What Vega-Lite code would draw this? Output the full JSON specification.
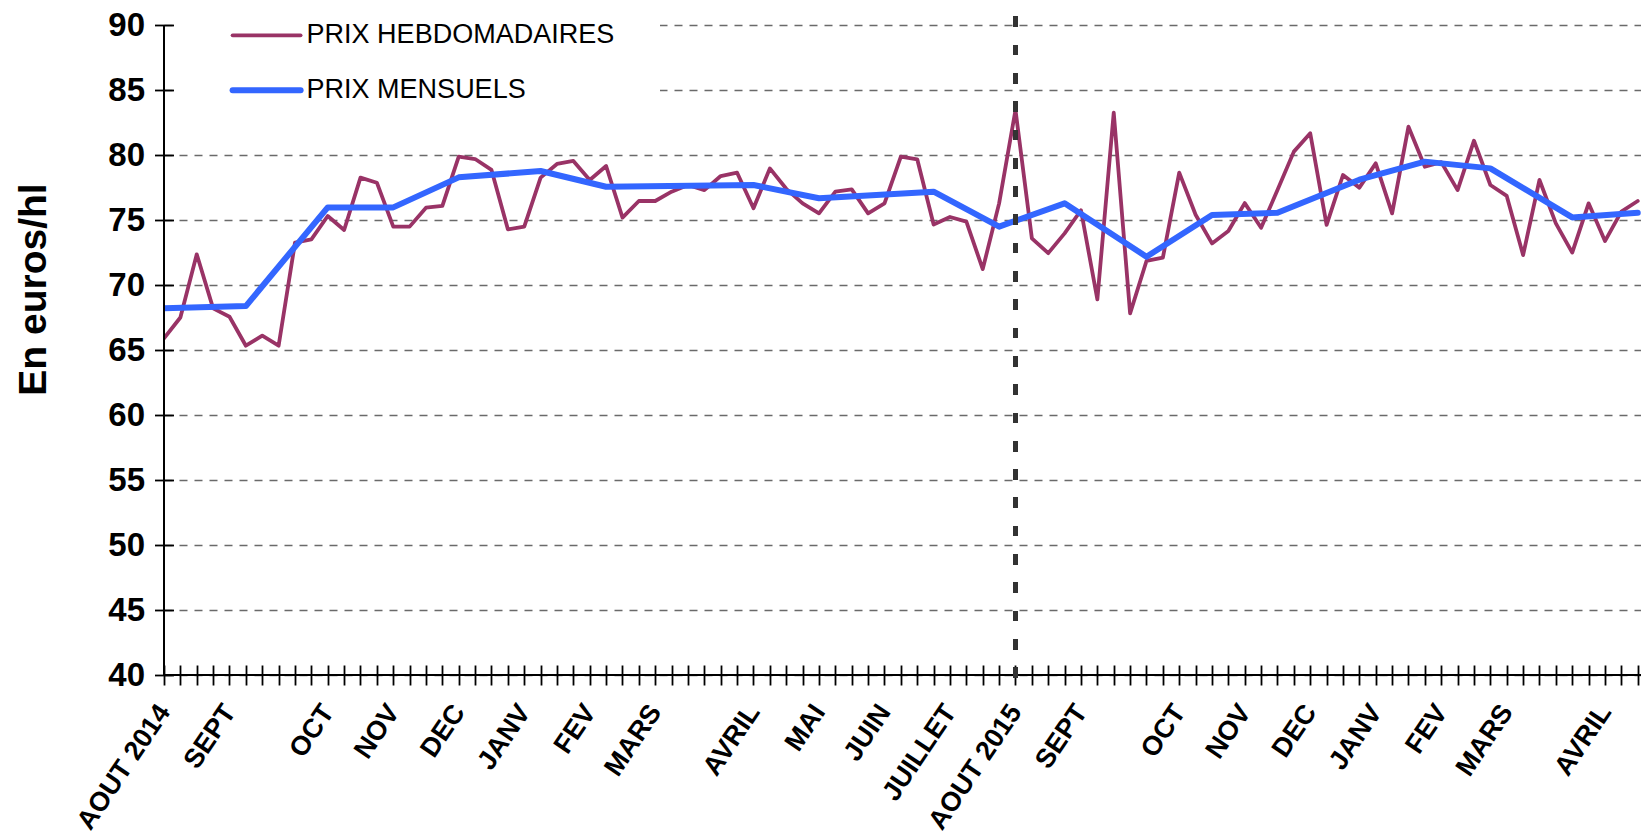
{
  "$schema": "https://vega.github.io/schema/vega-lite/v6.json",
  "autosize": {"type": "none"},
  "width": 1477,
  "height": 650,
  "padding": {"left": 164, "top": 25, "right": 0, "bottom": 165},
  "background": "white",
  "config": {"view": {"stroke": null}},
  "data": {"values": [
    {"semaine": 0, "serie": "PRIX HEBDOMADAIRES", "prix": 65.9},
    {"semaine": 1, "serie": "PRIX HEBDOMADAIRES", "prix": 67.5},
    {"semaine": 2, "serie": "PRIX HEBDOMADAIRES", "prix": 72.36},
    {"semaine": 3, "serie": "PRIX HEBDOMADAIRES", "prix": 68.2},
    {"semaine": 4, "serie": "PRIX HEBDOMADAIRES", "prix": 67.56},
    {"semaine": 5, "serie": "PRIX HEBDOMADAIRES", "prix": 65.33},
    {"semaine": 6, "serie": "PRIX HEBDOMADAIRES", "prix": 66.1},
    {"semaine": 7, "serie": "PRIX HEBDOMADAIRES", "prix": 65.33},
    {"semaine": 8, "serie": "PRIX HEBDOMADAIRES", "prix": 73.26},
    {"semaine": 9, "serie": "PRIX HEBDOMADAIRES", "prix": 73.51},
    {"semaine": 10, "serie": "PRIX HEBDOMADAIRES", "prix": 75.31},
    {"semaine": 11, "serie": "PRIX HEBDOMADAIRES", "prix": 74.23},
    {"semaine": 12, "serie": "PRIX HEBDOMADAIRES", "prix": 78.26},
    {"semaine": 13, "serie": "PRIX HEBDOMADAIRES", "prix": 77.87},
    {"semaine": 14, "serie": "PRIX HEBDOMADAIRES", "prix": 74.49},
    {"semaine": 15, "serie": "PRIX HEBDOMADAIRES", "prix": 74.49},
    {"semaine": 16, "serie": "PRIX HEBDOMADAIRES", "prix": 75.95},
    {"semaine": 17, "serie": "PRIX HEBDOMADAIRES", "prix": 76.08},
    {"semaine": 18, "serie": "PRIX HEBDOMADAIRES", "prix": 79.87},
    {"semaine": 19, "serie": "PRIX HEBDOMADAIRES", "prix": 79.69},
    {"semaine": 20, "serie": "PRIX HEBDOMADAIRES", "prix": 78.85},
    {"semaine": 21, "serie": "PRIX HEBDOMADAIRES", "prix": 74.28},
    {"semaine": 22, "serie": "PRIX HEBDOMADAIRES", "prix": 74.49},
    {"semaine": 23, "serie": "PRIX HEBDOMADAIRES", "prix": 78.26},
    {"semaine": 24, "serie": "PRIX HEBDOMADAIRES", "prix": 79.31},
    {"semaine": 25, "serie": "PRIX HEBDOMADAIRES", "prix": 79.54},
    {"semaine": 26, "serie": "PRIX HEBDOMADAIRES", "prix": 78.08},
    {"semaine": 27, "serie": "PRIX HEBDOMADAIRES", "prix": 79.15},
    {"semaine": 28, "serie": "PRIX HEBDOMADAIRES", "prix": 75.18},
    {"semaine": 29, "serie": "PRIX HEBDOMADAIRES", "prix": 76.46},
    {"semaine": 30, "serie": "PRIX HEBDOMADAIRES", "prix": 76.46},
    {"semaine": 31, "serie": "PRIX HEBDOMADAIRES", "prix": 77.18},
    {"semaine": 32, "serie": "PRIX HEBDOMADAIRES", "prix": 77.69},
    {"semaine": 33, "serie": "PRIX HEBDOMADAIRES", "prix": 77.3},
    {"semaine": 34, "serie": "PRIX HEBDOMADAIRES", "prix": 78.38},
    {"semaine": 35, "serie": "PRIX HEBDOMADAIRES", "prix": 78.64},
    {"semaine": 36, "serie": "PRIX HEBDOMADAIRES", "prix": 75.9},
    {"semaine": 37, "serie": "PRIX HEBDOMADAIRES", "prix": 78.97},
    {"semaine": 38, "serie": "PRIX HEBDOMADAIRES", "prix": 77.4},
    {"semaine": 39, "serie": "PRIX HEBDOMADAIRES", "prix": 76.28},
    {"semaine": 40, "serie": "PRIX HEBDOMADAIRES", "prix": 75.51},
    {"semaine": 41, "serie": "PRIX HEBDOMADAIRES", "prix": 77.18},
    {"semaine": 42, "serie": "PRIX HEBDOMADAIRES", "prix": 77.36},
    {"semaine": 43, "serie": "PRIX HEBDOMADAIRES", "prix": 75.51},
    {"semaine": 44, "serie": "PRIX HEBDOMADAIRES", "prix": 76.28},
    {"semaine": 45, "serie": "PRIX HEBDOMADAIRES", "prix": 79.87},
    {"semaine": 46, "serie": "PRIX HEBDOMADAIRES", "prix": 79.67},
    {"semaine": 47, "serie": "PRIX HEBDOMADAIRES", "prix": 74.65},
    {"semaine": 48, "serie": "PRIX HEBDOMADAIRES", "prix": 75.23},
    {"semaine": 49, "serie": "PRIX HEBDOMADAIRES", "prix": 74.87},
    {"semaine": 50, "serie": "PRIX HEBDOMADAIRES", "prix": 71.22},
    {"semaine": 51, "serie": "PRIX HEBDOMADAIRES", "prix": 76.28},
    {"semaine": 52, "serie": "PRIX HEBDOMADAIRES", "prix": 83.46},
    {"semaine": 53, "serie": "PRIX HEBDOMADAIRES", "prix": 73.59},
    {"semaine": 54, "serie": "PRIX HEBDOMADAIRES", "prix": 72.45},
    {"semaine": 55, "serie": "PRIX HEBDOMADAIRES", "prix": 73.97},
    {"semaine": 56, "serie": "PRIX HEBDOMADAIRES", "prix": 75.75},
    {"semaine": 57, "serie": "PRIX HEBDOMADAIRES", "prix": 68.9},
    {"semaine": 58, "serie": "PRIX HEBDOMADAIRES", "prix": 83.26},
    {"semaine": 59, "serie": "PRIX HEBDOMADAIRES", "prix": 67.82},
    {"semaine": 60, "serie": "PRIX HEBDOMADAIRES", "prix": 71.85},
    {"semaine": 61, "serie": "PRIX HEBDOMADAIRES", "prix": 72.1},
    {"semaine": 62, "serie": "PRIX HEBDOMADAIRES", "prix": 78.64},
    {"semaine": 63, "serie": "PRIX HEBDOMADAIRES", "prix": 75.4},
    {"semaine": 64, "serie": "PRIX HEBDOMADAIRES", "prix": 73.2},
    {"semaine": 65, "serie": "PRIX HEBDOMADAIRES", "prix": 74.15},
    {"semaine": 66, "serie": "PRIX HEBDOMADAIRES", "prix": 76.3},
    {"semaine": 67, "serie": "PRIX HEBDOMADAIRES", "prix": 74.4},
    {"semaine": 68, "serie": "PRIX HEBDOMADAIRES", "prix": 77.3},
    {"semaine": 69, "serie": "PRIX HEBDOMADAIRES", "prix": 80.26},
    {"semaine": 70, "serie": "PRIX HEBDOMADAIRES", "prix": 81.67},
    {"semaine": 71, "serie": "PRIX HEBDOMADAIRES", "prix": 74.62},
    {"semaine": 72, "serie": "PRIX HEBDOMADAIRES", "prix": 78.46},
    {"semaine": 73, "serie": "PRIX HEBDOMADAIRES", "prix": 77.49},
    {"semaine": 74, "serie": "PRIX HEBDOMADAIRES", "prix": 79.36},
    {"semaine": 75, "serie": "PRIX HEBDOMADAIRES", "prix": 75.51},
    {"semaine": 76, "serie": "PRIX HEBDOMADAIRES", "prix": 82.18},
    {"semaine": 77, "serie": "PRIX HEBDOMADAIRES", "prix": 79.1},
    {"semaine": 78, "serie": "PRIX HEBDOMADAIRES", "prix": 79.45},
    {"semaine": 79, "serie": "PRIX HEBDOMADAIRES", "prix": 77.3},
    {"semaine": 80, "serie": "PRIX HEBDOMADAIRES", "prix": 81.1},
    {"semaine": 81, "serie": "PRIX HEBDOMADAIRES", "prix": 77.69},
    {"semaine": 82, "serie": "PRIX HEBDOMADAIRES", "prix": 76.85},
    {"semaine": 83, "serie": "PRIX HEBDOMADAIRES", "prix": 72.3},
    {"semaine": 84, "serie": "PRIX HEBDOMADAIRES", "prix": 78.08},
    {"semaine": 85, "serie": "PRIX HEBDOMADAIRES", "prix": 74.74},
    {"semaine": 86, "serie": "PRIX HEBDOMADAIRES", "prix": 72.49},
    {"semaine": 87, "serie": "PRIX HEBDOMADAIRES", "prix": 76.28},
    {"semaine": 88, "serie": "PRIX HEBDOMADAIRES", "prix": 73.38},
    {"semaine": 89, "serie": "PRIX HEBDOMADAIRES", "prix": 75.64},
    {"semaine": 90, "serie": "PRIX HEBDOMADAIRES", "prix": 76.46},
    {"semaine": 0, "serie": "PRIX MENSUELS", "prix": 68.21},
    {"semaine": 5, "serie": "PRIX MENSUELS", "prix": 68.38},
    {"semaine": 10, "serie": "PRIX MENSUELS", "prix": 75.97},
    {"semaine": 14, "serie": "PRIX MENSUELS", "prix": 75.97},
    {"semaine": 18, "serie": "PRIX MENSUELS", "prix": 78.28},
    {"semaine": 23, "serie": "PRIX MENSUELS", "prix": 78.77},
    {"semaine": 27, "serie": "PRIX MENSUELS", "prix": 77.56},
    {"semaine": 36, "serie": "PRIX MENSUELS", "prix": 77.69},
    {"semaine": 40, "serie": "PRIX MENSUELS", "prix": 76.67},
    {"semaine": 47, "serie": "PRIX MENSUELS", "prix": 77.18},
    {"semaine": 51, "serie": "PRIX MENSUELS", "prix": 74.49},
    {"semaine": 55, "serie": "PRIX MENSUELS", "prix": 76.28},
    {"semaine": 60, "serie": "PRIX MENSUELS", "prix": 72.18},
    {"semaine": 64, "serie": "PRIX MENSUELS", "prix": 75.38},
    {"semaine": 68, "serie": "PRIX MENSUELS", "prix": 75.56},
    {"semaine": 73, "serie": "PRIX MENSUELS", "prix": 78.1},
    {"semaine": 77, "serie": "PRIX MENSUELS", "prix": 79.49},
    {"semaine": 81, "serie": "PRIX MENSUELS", "prix": 78.97},
    {"semaine": 86, "serie": "PRIX MENSUELS", "prix": 75.2},
    {"semaine": 90, "serie": "PRIX MENSUELS", "prix": 75.56}
  ]},
  "layer": [
    {
      "transform": [{"filter": "datum.serie === 'PRIX HEBDOMADAIRES'"}],
      "mark": {"type": "line", "strokeWidth": 3.8, "strokeJoin": "round", "strokeCap": "round", "clip": true},
      "encoding": {
        "x": {
          "field": "semaine", "type": "quantitative",
          "scale": {"domain": [0, 90.2], "nice": false, "zero": false},
          "axis": {
            "title": null,
            "values": [0,1,2,3,4,5,6,7,8,9,10,11,12,13,14,15,16,17,18,19,20,21,22,23,24,25,26,27,28,29,30,31,32,33,34,35,36,37,38,39,40,41,42,43,44,45,46,47,48,49,50,51,52,53,54,55,56,57,58,59,60,61,62,63,64,65,66,67,68,69,70,71,72,73,74,75,76,77,78,79,80,81,82,83,84,85,86,87,88,89,90],
            "tickCount": 200,
            "labelExpr": "datum.value==0?'AOUT 2014':datum.value==4?'SEPT':datum.value==10?'OCT':datum.value==14?'NOV':datum.value==18?'DEC':datum.value==22?'JANV':datum.value==26?'FEV':datum.value==30?'MARS':datum.value==36?'AVRIL':datum.value==40?'MAI':datum.value==44?'JUIN':datum.value==48?'JUILLET':datum.value==52?'AOUT 2015':datum.value==56?'SEPT':datum.value==62?'OCT':datum.value==66?'NOV':datum.value==70?'DEC':datum.value==74?'JANV':datum.value==78?'FEV':datum.value==82?'MARS':datum.value==88?'AVRIL':''",
            "labelAngle": -56,
            "labelAlign": "right",
            "labelBaseline": "middle",
            "labelFont": "Liberation Sans",
            "labelFontSize": 27,
            "labelFontWeight": "bold",
            "labelColor": "black",
            "labelPadding": 22,
            "labelOverlap": false,
            "labelFlush": false,
            "labelBound": false,
            "tickSize": 20,
            "tickWidth": 1.8,
            "tickColor": "black",
            "offset": -10,
            "domain": false,
            "grid": false
          }
        },
        "y": {
          "field": "prix", "type": "quantitative",
          "scale": {"domain": [40, 90], "nice": false, "zero": false},
          "axis": {
            "title": "En euros/hl",
            "titleFont": "Liberation Sans",
            "titleFontSize": 39,
            "titleFontWeight": "bold",
            "titleColor": "black",
            "titlePadding": 54,
            "titleY": 264,
            "values": [40,45,50,55,60,65,70,75,80,85,90],
            "labelFont": "Liberation Sans",
            "labelFontSize": 33,
            "labelFontWeight": "bold",
            "labelColor": "black",
            "labelPadding": 10,
            "tickSize": 19,
            "tickWidth": 1.8,
            "tickColor": "black",
            "offset": -9.5,
            "domain": false,
            "grid": true,
            "gridDash": [8, 7],
            "gridColor": "#6a6a6a",
            "gridWidth": 1.3
          }
        },
        "color": {
          "field": "serie", "type": "nominal",
          "scale": {"domain": ["PRIX HEBDOMADAIRES", "PRIX MENSUELS"], "range": ["#993366", "#3366FF"]},
          "legend": {
            "title": null,
            "orient": "none",
            "legendX": 10,
            "legendY": -49.7,
            "direction": "vertical",
            "fillColor": "white",
            "padding": 45,
            "symbolType": "stroke",
            "symbolSize": 4624,
            "symbolOffset": 34.1,
            "symbolStrokeWidth": 3,
            "clipHeight": 30,
            "rowPadding": 25,
            "labelOffset": 26.5,
            "labelFont": "Liberation Sans",
            "labelFontSize": 27,
            "labelColor": "black",
            "labelLimit": 600,
            "encode": {"symbols": {"update": {"strokeWidth": {"signal": "datum.value === 'PRIX MENSUELS' ? 6 : 3.8"}, "strokeCap": {"value": "round"}}}}
          }
        }
      }
    },
    {
      "transform": [{"filter": "datum.serie === 'PRIX MENSUELS'"}],
      "mark": {"type": "line", "strokeWidth": 6, "strokeJoin": "round", "strokeCap": "round", "clip": true},
      "encoding": {
        "x": {"field": "semaine", "type": "quantitative", "scale": {"domain": [0, 90.2], "nice": false, "zero": false}},
        "y": {"field": "prix", "type": "quantitative", "scale": {"domain": [40, 90], "nice": false, "zero": false}},
        "color": {"field": "serie", "type": "nominal"}
      }
    },
    {
      "mark": {"type": "rule", "color": "black", "strokeWidth": 2},
      "encoding": {"y": {"datum": 40, "type": "quantitative", "scale": {"domain": [40, 90], "nice": false, "zero": false}}}
    },
    {
      "mark": {"type": "rule", "color": "black", "strokeWidth": 2},
      "encoding": {"x": {"datum": 0, "type": "quantitative", "scale": {"domain": [0, 90.2], "nice": false, "zero": false}}}
    },
    {
      "mark": {"type": "rule", "color": "#333333", "strokeWidth": 4.5, "strokeDash": [10, 18.3], "clip": false},
      "encoding": {
        "x": {"datum": 52, "type": "quantitative", "scale": {"domain": [0, 90.2], "nice": false, "zero": false}},
        "y": {"datum": 90.64, "type": "quantitative", "scale": {"domain": [40, 90], "nice": false, "zero": false}},
        "y2": {"datum": 38.7}
      }
    }
  ]
}
